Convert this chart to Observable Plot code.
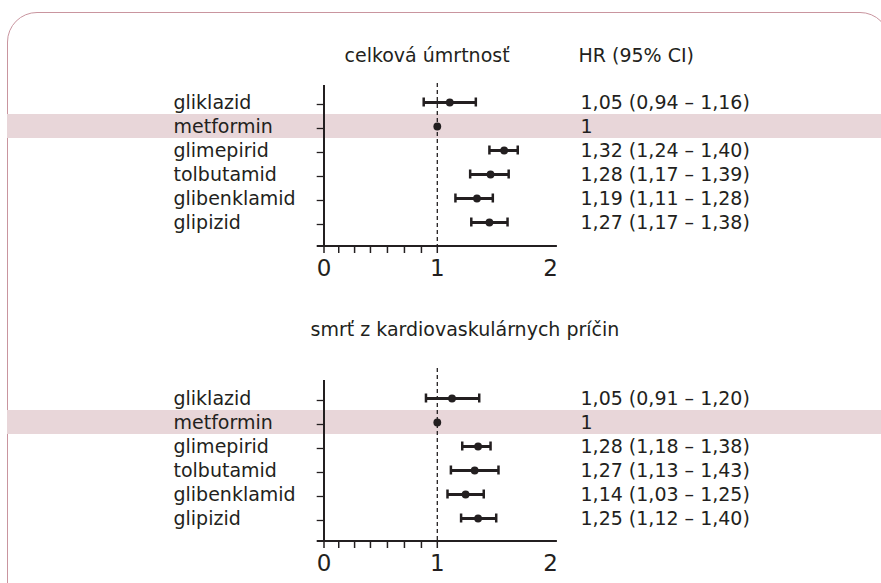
<!DOCTYPE html>
<html><head><meta charset="utf-8">
<script src="https://cdn.jsdelivr.net/npm/d3@7"></script>
<script src="https://cdn.jsdelivr.net/npm/@observablehq/plot@0.6"></script>
<style>
html,body{margin:0;padding:0;background:#fff;width:881px;height:583px;overflow:hidden;}
#frame{position:absolute;left:7px;top:12px;width:883px;height:640px;border:1.5px solid #c9959f;border-radius:30px;box-sizing:border-box;}
#p1{position:absolute;left:0;top:0;}
#p2{position:absolute;left:0;top:290px;}
svg{overflow:visible;}
</style></head><body>
<div id="frame"></div>
<div id="p1"></div><div id="p2"></div>
<script>
// categories
const drugs = ["gliklazid", "metformin", "glimepirid", "tolbutamid", "glibenklamid", "glipizid"];
const highlight = ["metformin"];

// panel 1: celková úmrtnosť (positions as drawn in the picture)
const mortHR = [1.11, 1.00, 1.59, 1.47, 1.35, 1.46];
const mortLo = [0.88, 1.00, 1.46, 1.29, 1.16, 1.30];
const mortHi = [1.34, 1.00, 1.71, 1.63, 1.49, 1.62];
const mortText = ["1,05 (0,94 – 1,16)", "1", "1,32 (1,24 – 1,40)", "1,28 (1,17 – 1,39)", "1,19 (1,11 – 1,28)", "1,27 (1,17 – 1,38)"];

// panel 2: smrť z kardiovaskulárnych príčin
const cvHR = [1.13, 1.00, 1.36, 1.33, 1.25, 1.36];
const cvLo = [0.90, 1.00, 1.22, 1.12, 1.09, 1.21];
const cvHi = [1.37, 1.00, 1.47, 1.54, 1.41, 1.52];
const cvText = ["1,05 (0,91 – 1,20)", "1", "1,28 (1,18 – 1,38)", "1,27 (1,13 – 1,43)", "1,14 (1,03 – 1,25)", "1,25 (1,12 – 1,40)"];

// axis
const tickLabels = [0, 1, 2];
const tickMarks = [0, 0.13, 0.27, 0.41, 0.56, 0.71, 0.86, 1];
const referenceHR = [1];
const axisSpan = [-0.06, 2.06];
const titles = ["celková úmrtnosť", "smrť z kardiovaskulárnych príčin"];
const valueHeader = "HR (95% CI)";

const ink = "#231f20";
const font = "DejaVu Sans";

function panel({hr, lo, hi, txt, title, header, height, marginTop, marginBottom, yRange, dashInset, titleDx, titleDy}) {
  const rows = drugs.map((d, i) => ({drug: d, hr: hr[i], lo: lo[i], hi: hi[i], text: txt[i]}));
  const bars = rows.filter(r => r.lo !== r.hi);
  const marks = [
    Plot.cell(highlight, {y: d => d, fill: "#e8d6d9"}),
    Plot.ruleX(referenceHR, {stroke: ink, strokeWidth: 1.3, strokeDasharray: "4,3", insetTop: dashInset}),
    Plot.ruleX([0], {stroke: ink, strokeWidth: 2}),
    (index, scales, values, dims) => {
      const yb = dims.height - dims.marginBottom;
      return d3.create("svg:line")
        .attr("x1", scales.x(axisSpan[0])).attr("x2", scales.x(axisSpan[1]))
        .attr("y1", yb).attr("y2", yb)
        .attr("stroke", ink).attr("stroke-width", 2).node();
    },
    Plot.ruleY(drugs, {y: d => d, x1: axisSpan[0], x2: 0, stroke: ink, strokeWidth: 1.3, dy: 2}),
    Plot.axisX({ticks: tickLabels, tickSize: 0, tickPadding: 13, fontSize: 23, color: ink, fill: ink, label: null, tickFormat: d => String(d)}),
    Plot.axisX({ticks: tickMarks, tickSize: 7, stroke: ink, strokeWidth: 1.5, label: null, tickFormat: () => ""}),
    Plot.ruleY(bars, {y: "drug", x1: "lo", x2: "hi", stroke: ink, strokeWidth: 3}),
    Plot.tickX(bars, {x: "lo", y: "drug", stroke: ink, strokeWidth: 2.5, insetTop: 7.5, insetBottom: 7.5}),
    Plot.tickX(bars, {x: "hi", y: "drug", stroke: ink, strokeWidth: 2.5, insetTop: 7.5, insetBottom: 7.5}),
    Plot.dot(rows, {x: "hr", y: "drug", r: 3.9, fill: ink, stroke: null}),
    Plot.text(rows, {y: "drug", text: "drug", frameAnchor: "left", textAnchor: "start", dx: 166, fontSize: 19, fill: ink}),
    Plot.text(rows, {y: "drug", text: "text", frameAnchor: "left", textAnchor: "start", dx: 573, fontSize: 19, fill: ink}),
    Plot.text([title], {text: d => d, frameAnchor: "top-left", textAnchor: "start", dx: titleDx, dy: titleDy, fontSize: 19, fill: ink})
  ];
  if (header) marks.push(Plot.text([header], {text: d => d, frameAnchor: "top-left", textAnchor: "start", dx: 571, dy: titleDy, fontSize: 19, fill: ink}));
  return Plot.plot({
    width: 881, height, marginLeft: 7, marginRight: 0, marginTop, marginBottom,
    style: {fontFamily: font, color: ink, background: "transparent", overflow: "visible"},
    x: {domain: [0, 2], range: [323.5, 550.1], axis: null},
    y: {domain: drugs, range: yRange, padding: 0, axis: null},
    marks
  });
}

document.getElementById("p1").append(panel({
  hr: mortHR, lo: mortLo, hi: mortHi, txt: mortText, title: titles[0], header: valueHeader,
  height: 290, marginTop: 85, marginBottom: 44, yRange: [87.6, 236.4], dashInset: -2,
  titleDx: 337, titleDy: -37
}));
document.getElementById("p2").append(panel({
  hr: cvHR, lo: cvLo, hi: cvHi, txt: cvText, title: titles[1], header: null,
  height: 293, marginTop: 90, marginBottom: 42, yRange: [93.6, 241.9], dashInset: -12,
  titleDx: 303, titleDy: -58
}));
</script>
</body></html>
